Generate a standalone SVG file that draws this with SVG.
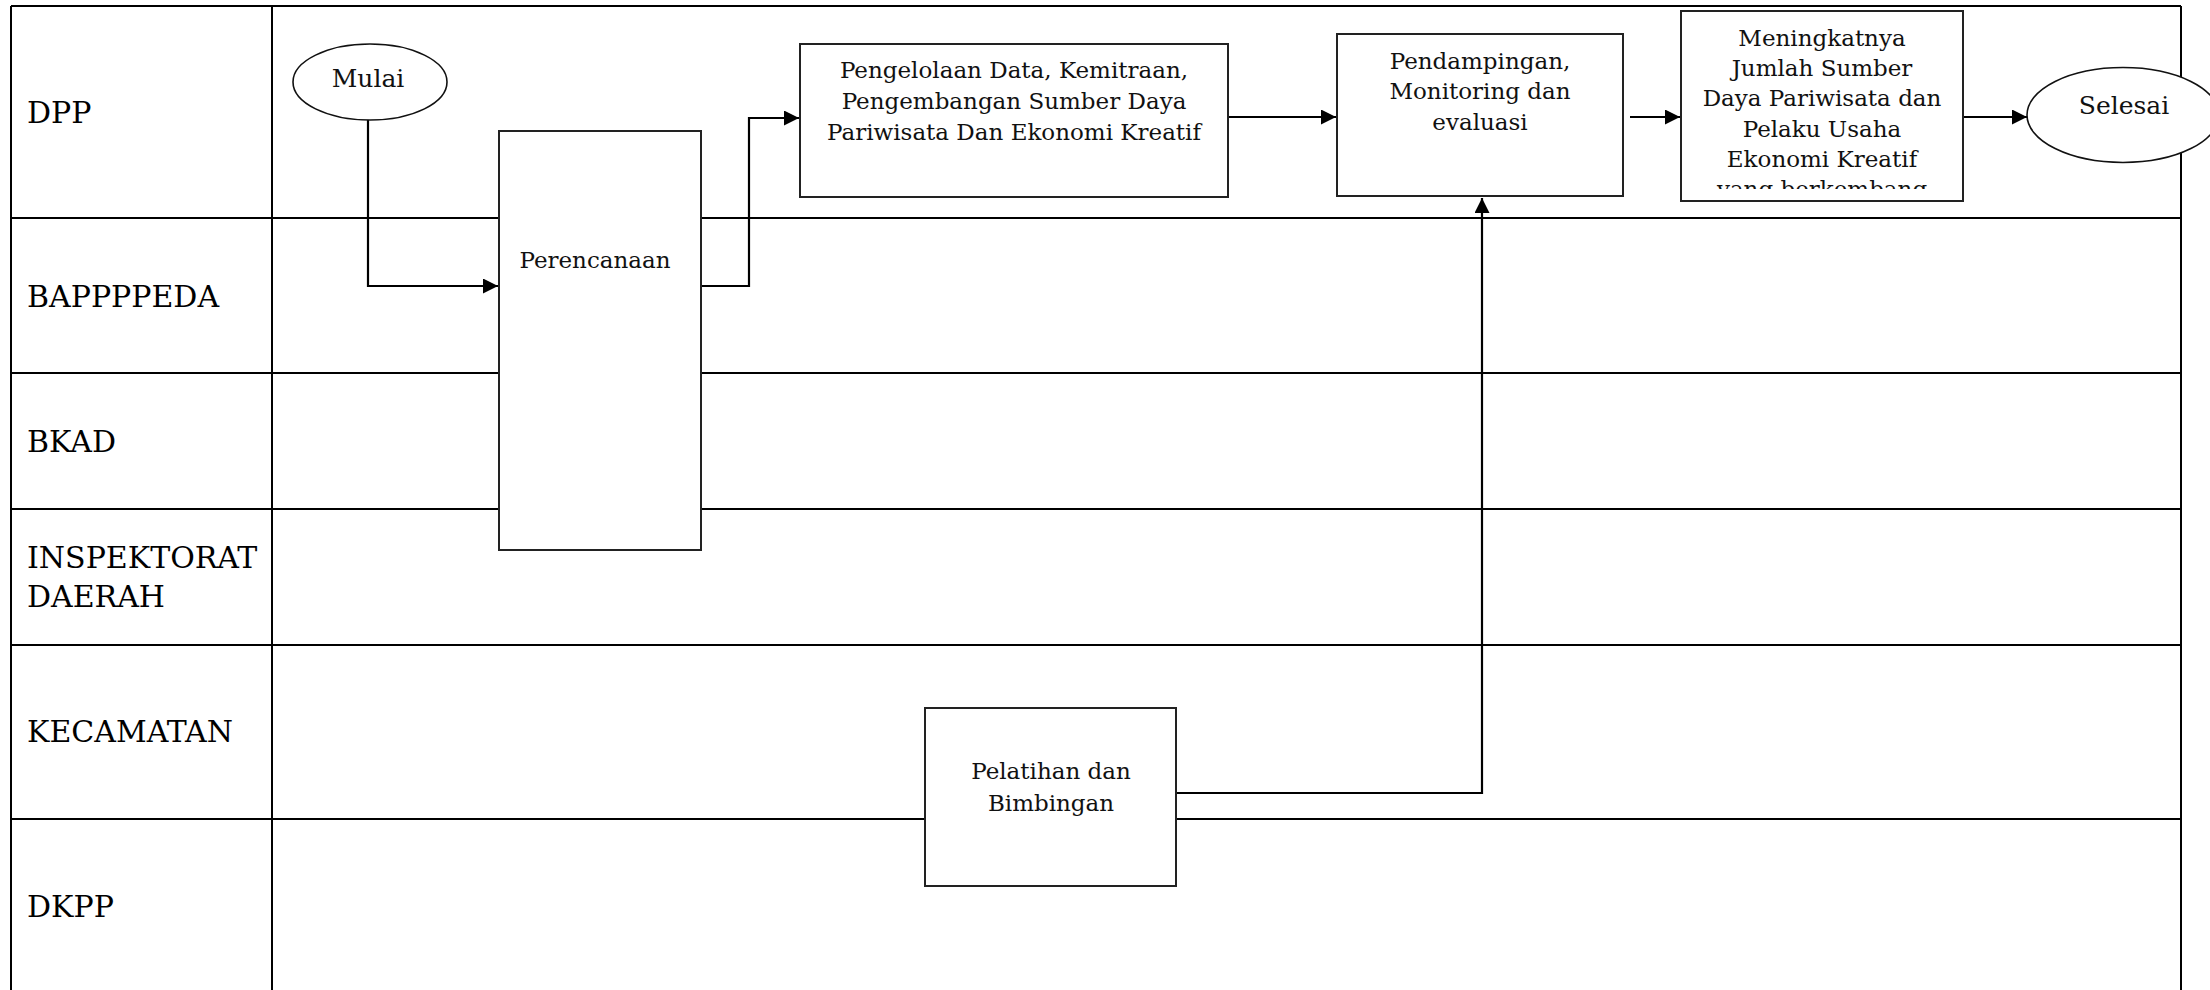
<svg xmlns="http://www.w3.org/2000/svg" width="2210" height="990" viewBox="0 0 2210 990">
  <style>
    .grid { stroke: #000; stroke-width: 2; fill: none; }
    .lane { font-family: "DejaVu Serif", "Liberation Serif", serif; font-size: 30px; fill: #000; }
    .box { fill: #fff; stroke: #222; stroke-width: 2; }
    .term { fill: #fff; stroke: #111; stroke-width: 1.6; }
    .txt { font-family: "DejaVu Serif", "Liberation Serif", serif; font-size: 23px; fill: #111; text-anchor: middle; }
    .ttxt { font-family: "DejaVu Serif", "Liberation Serif", serif; font-size: 25px; fill: #111; text-anchor: middle; }
    .conn { stroke: #000; stroke-width: 2.2; fill: none; }
  </style>
  <defs>
    <marker id="arrow" markerUnits="userSpaceOnUse" markerWidth="16" markerHeight="16" refX="15" refY="7.5" orient="auto">
      <path d="M0,0 L15,7.5 L0,15 z" fill="#000"/>
    </marker>
    <clipPath id="clip-hasil">
      <rect x="1682" y="12" width="280" height="177"/>
    </clipPath>
  </defs>

  <rect width="2210" height="990" fill="#fff"/>

  <!-- swimlane grid -->
  <g id="lanes">
    <line class="grid" x1="11" y1="6" x2="2181" y2="6"/>
    <line class="grid" x1="11" y1="6" x2="11" y2="990"/>
    <line class="grid" x1="272" y1="6" x2="272" y2="990"/>
    <line class="grid" x1="2181" y1="6" x2="2181" y2="990"/>
    <line class="grid" x1="11" y1="218" x2="2181" y2="218"/>
    <line class="grid" x1="11" y1="373" x2="2181" y2="373"/>
    <line class="grid" x1="11" y1="509" x2="2181" y2="509"/>
    <line class="grid" x1="11" y1="645" x2="2181" y2="645"/>
    <line class="grid" x1="11" y1="819" x2="2181" y2="819"/>
    <text class="lane" x="27" y="123">DPP</text>
    <text class="lane" x="27" y="307">BAPPPPEDA</text>
    <text class="lane" x="27" y="452">BKAD</text>
    <text class="lane" x="27" y="568">INSPEKTORAT</text>
    <text class="lane" x="27" y="607">DAERAH</text>
    <text class="lane" x="27" y="742">KECAMATAN</text>
    <text class="lane" x="27" y="917">DKPP</text>
  </g>

  <!-- flow connectors -->
  <g id="connectors">
    <path class="conn" d="M368,120 V286 H498" marker-end="url(#arrow)"/>
    <path class="conn" d="M701,286 H749 V118 H799" marker-end="url(#arrow)"/>
    <path class="conn" d="M1228,117 H1336" marker-end="url(#arrow)"/>
    <path class="conn" d="M1630,117 H1680" marker-end="url(#arrow)"/>
    <path class="conn" d="M1963,117 H2027" marker-end="url(#arrow)"/>
    <path class="conn" d="M1176,793 H1482 V198" marker-end="url(#arrow)"/>
  </g>

  <g id="mulai">
    <ellipse class="term" cx="370" cy="82" rx="77" ry="38"/>
    <text class="ttxt" x="368" y="87">Mulai</text>
  </g>

  <g id="perencanaan">
    <rect class="box" x="499" y="131" width="202" height="419"/>
    <text class="txt" x="595" y="268">Perencanaan</text>
  </g>

  <g id="pengelolaan">
    <rect class="box" x="800" y="44" width="428" height="153"/>
    <text class="txt" x="1014" y="78">Pengelolaan Data, Kemitraan,</text>
    <text class="txt" x="1014" y="109">Pengembangan Sumber Daya</text>
    <text class="txt" x="1014" y="140">Pariwisata Dan Ekonomi Kreatif</text>
  </g>

  <g id="pendampingan">
    <rect class="box" x="1337" y="34" width="286" height="162"/>
    <text class="txt" x="1480" y="69">Pendampingan,</text>
    <text class="txt" x="1480" y="99">Monitoring dan</text>
    <text class="txt" x="1480" y="130">evaluasi</text>
  </g>

  <g id="hasil">
    <rect class="box" x="1681" y="11" width="282" height="190"/>
    <g clip-path="url(#clip-hasil)">
      <text class="txt" x="1822" y="46">Meningkatnya</text>
      <text class="txt" x="1822" y="76">Jumlah Sumber</text>
      <text class="txt" x="1822" y="106">Daya Pariwisata dan</text>
      <text class="txt" x="1822" y="137">Pelaku Usaha</text>
      <text class="txt" x="1822" y="167">Ekonomi Kreatif</text>
      <text class="txt" x="1822" y="197">yang berkembang</text>
    </g>
  </g>

  <g id="selesai">
    <ellipse class="term" cx="2123" cy="115" rx="96" ry="47.5"/>
    <text class="ttxt" x="2124" y="114">Selesai</text>
  </g>

  <g id="pelatihan">
    <rect class="box" x="925" y="708" width="251" height="178"/>
    <text class="txt" x="1051" y="779">Pelatihan dan</text>
    <text class="txt" x="1051" y="811">Bimbingan</text>
  </g>
</svg>
